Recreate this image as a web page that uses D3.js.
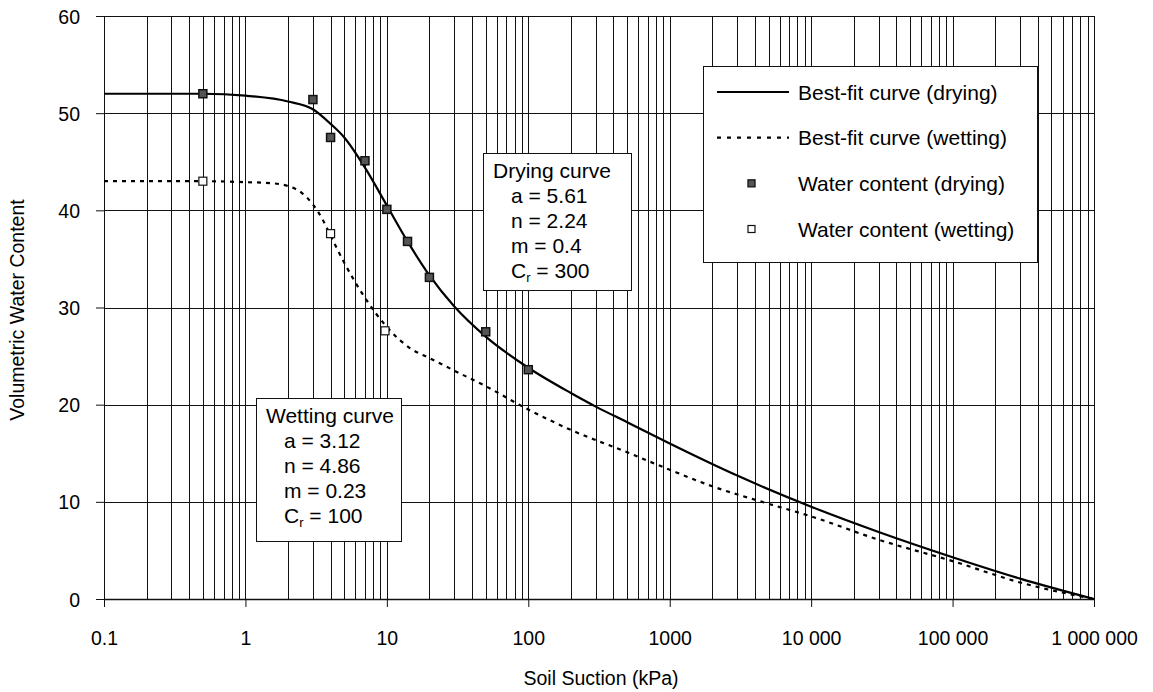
<!DOCTYPE html>
<html>
<head>
<meta charset="utf-8">
<script src="https://cdn.jsdelivr.net/npm/d3@7"></script>
<style>
  body { margin: 0; background: #fff; }
  svg text { font-family: "Liberation Sans", Arial, Helvetica, sans-serif; fill: #000; }
</style>
</head>
<body>
<div id="chart"></div>
<script>

// curve readings (suction kPa -> volumetric water content)
var dryingCurveSuction = [0.1, 0.5, 1, 2, 3, 4, 5, 7, 10, 14, 20, 30, 50, 100, 200, 300, 500, 1000, 3000, 10000, 30000, 100000, 300000, 1000000];
var dryingCurveWater   = [52.0, 52.0, 51.8, 51.2, 50.4, 48.9, 47.5, 44.4, 40.5, 36.8, 33.3, 30.1, 27.0, 23.8, 21.2, 19.8, 18.2, 16.0, 12.7, 9.5, 6.9, 4.3, 2.1, 0];

var wettingCurveSuction = [0.1, 0.5, 1, 1.5, 2, 2.5, 3, 3.5, 4, 5, 7, 10, 15, 20, 30, 50, 100, 200, 500, 1000, 2000, 5000, 10000, 30000, 100000, 300000, 1000000];
var wettingCurveWater   = [43.0, 43.0, 42.9, 42.8, 42.5, 41.8, 40.6, 39.1, 37.4, 34.6, 31.0, 28.0, 25.7, 24.8, 23.5, 21.9, 19.5, 17.4, 15.1, 13.3, 11.6, 9.8, 8.5, 6.1, 3.9, 1.7, 0];

// measured points
var dryingSuction = [0.5, 3, 4, 7, 10, 14, 20, 50, 100];
var dryingWater   = [52.0, 51.4, 47.5, 45.1, 40.1, 36.8, 33.1, 27.5, 23.6];

var wettingSuction = [0.5, 4, 9.7];
var wettingWater   = [43.0, 37.6, 27.6];

// axes
var xTickValues = [0.1, 1, 10, 100, 1000, 10000, 100000, 1000000];
var xTickLabels = ["0.1", "1", "10", "100", "1000", "10 000", "100 000", "1 000 000"];
var yTickValues = [0, 10, 20, 30, 40, 50, 60];

var legendNames = ["Best-fit curve (drying)", "Best-fit curve (wetting)", "Water content (drying)", "Water content (wetting)"];

var dryingParams  = ["a = 5.61", "n = 2.24", "m = 0.4", "300"];
var wettingParams = ["a = 3.12", "n = 4.86", "m = 0.23", "100"];


function main() {

    var margin = {top: 16, left: 104},
        width = 990,
        height = 583;

    var svg = d3.select("#chart")
        .append("svg")
        .attr("width", 1153)
        .attr("height", 692);

    var g = svg.append("g")
        .attr("transform", "translate(" + margin.left + "," + margin.top + ")");

    var x = d3.scaleLog().domain([0.1, 1000000]).range([0, width]);
    var y = d3.scaleLinear().domain([0, 60]).range([height, 0]);

    // vertical grid (every 1..9 of each decade)
    g.append("g")
        .selectAll("line")
        .data(x.ticks())
        .join("line")
            .attr("x1", d => Math.round(x(d)) + 0.5)
            .attr("x2", d => Math.round(x(d)) + 0.5)
            .attr("y1", 0)
            .attr("y2", height)
            .style("stroke", "#111")
            .style("stroke-width", 1);

    // horizontal grid
    g.append("g")
        .selectAll("line")
        .data(yTickValues)
        .join("line")
            .attr("x1", 0)
            .attr("x2", width)
            .attr("y1", d => Math.round(y(d)) + 0.5)
            .attr("y2", d => Math.round(y(d)) + 0.5)
            .style("stroke", "#111")
            .style("stroke-width", d => d == 0 ? 1.5 : 1);

    // X axis
    var xAxis = g.append("g")
        .attr("transform", "translate(0," + height + ")")
        .call(d3.axisBottom(x).tickValues(xTickValues).tickSize(8).tickFormat((d, i) => xTickLabels[i]));
    xAxis.select(".domain").remove();
    xAxis.selectAll("line").style("stroke", "#111");
    xAxis.selectAll("text")
        .attr("y", 46)
        .attr("dy", 0)
        .style("font-size", "19.5px")
        .style("font-family", "Liberation Sans, Arial, sans-serif");

    // Y axis
    var yAxis = g.append("g")
        .call(d3.axisLeft(y).tickValues(yTickValues).tickSize(8).tickPadding(16));
    yAxis.select(".domain").remove();
    yAxis.selectAll("line").style("stroke", "#111");
    yAxis.selectAll("text")
        .attr("dy", "0.36em")
        .style("font-size", "19.5px")
        .style("font-family", "Liberation Sans, Arial, sans-serif");

    // axis labels
    svg.append("text")
        .attr("text-anchor", "middle")
        .attr("x", 601)
        .attr("y", 685)
        .attr("font-size", "19.5px")
        .text("Soil Suction (kPa)");

    svg.append("text")
        .attr("text-anchor", "middle")
        .attr("transform", "translate(24,310) rotate(-90)")
        .attr("font-size", "19.5px")
        .text("Volumetric Water Content");

    // curves
    var line = d3.line()
        .x(d => x(d[0]))
        .y(d => y(d[1]))
        .curve(d3.curveMonotoneX);

    g.append("path")
        .datum(wettingCurveSuction.map((s, i) => [s, wettingCurveWater[i]]))
        .attr("fill", "none")
        .attr("stroke", "#000")
        .attr("stroke-width", 2.2)
        .attr("stroke-dasharray", "4,5")
        .attr("d", line);

    g.append("path")
        .datum(dryingCurveSuction.map((s, i) => [s, dryingCurveWater[i]]))
        .attr("fill", "none")
        .attr("stroke", "#000")
        .attr("stroke-width", 2.2)
        .attr("d", line);

    // points
    var sq = 8;
    g.append("g")
        .selectAll("rect")
        .data(dryingSuction.map((s, i) => [s, dryingWater[i]]))
        .join("rect")
            .attr("x", d => x(d[0]) - sq / 2)
            .attr("y", d => y(d[1]) - sq / 2)
            .attr("width", sq)
            .attr("height", sq)
            .style("fill", "#555")
            .style("stroke", "#111")
            .style("stroke-width", 1.5);

    g.append("g")
        .selectAll("rect")
        .data(wettingSuction.map((s, i) => [s, wettingWater[i]]))
        .join("rect")
            .attr("x", d => x(d[0]) - sq / 2)
            .attr("y", d => y(d[1]) - sq / 2)
            .attr("width", sq)
            .attr("height", sq)
            .style("fill", "#fff")
            .style("stroke", "#111")
            .style("stroke-width", 1.2);

    // annotation boxes
    function paramBox(bx, by, bw, bh, title, params) {
        svg.append("rect")
            .attr("x", bx + 0.5).attr("y", by + 0.5)
            .attr("width", bw).attr("height", bh)
            .style("fill", "#fff")
            .style("stroke", "#111")
            .style("stroke-width", 1);
        svg.append("text")
            .attr("x", bx + 10)
            .attr("y", by + 25)
            .attr("font-size", "21px")
            .text(title);
        params.forEach(function (p, i) {
            var t = svg.append("text")
                .attr("x", bx + 28)
                .attr("y", by + 50 + i * 25)
                .attr("font-size", "21px");
            if (i == 3) {
                t.append("tspan").text("C");
                t.append("tspan").attr("font-size", "13px").attr("dy", 4).text("r");
                t.append("tspan").attr("dy", -4).text(" = " + p);
            } else {
                t.text(p);
            }
        });
    }
    paramBox(483, 153, 148, 137, "Drying curve", dryingParams);
    paramBox(256, 398, 145, 143, "Wetting curve", wettingParams);

    // legend
    var legend = svg.append("g");
    legend.append("rect")
        .attr("x", 703.5).attr("y", 66.5)
        .attr("width", 334).attr("height", 196)
        .style("fill", "#fff")
        .style("stroke", "#111")
        .style("stroke-width", 1);

    var rowY = d3.scalePoint().domain(legendNames).range([92, 229]);

    legend.append("line")
        .attr("x1", 717).attr("x2", 789)
        .attr("y1", rowY(legendNames[0])).attr("y2", rowY(legendNames[0]))
        .style("stroke", "#000").style("stroke-width", 2.2);
    legend.append("line")
        .attr("x1", 717).attr("x2", 789)
        .attr("y1", rowY(legendNames[1])).attr("y2", rowY(legendNames[1]))
        .style("stroke", "#000").style("stroke-width", 2.2)
        .style("stroke-dasharray", "4,6");
    legend.append("rect")
        .attr("x", 748).attr("y", rowY(legendNames[2]) - 3.5)
        .attr("width", 7).attr("height", 7)
        .style("fill", "#555").style("stroke", "#111").style("stroke-width", 1.3);
    legend.append("rect")
        .attr("x", 748).attr("y", rowY(legendNames[3]) - 3.5)
        .attr("width", 7).attr("height", 7)
        .style("fill", "#fff").style("stroke", "#111").style("stroke-width", 1.2);

    legend.selectAll("text.lab")
        .data(legendNames)
        .join("text")
            .attr("class", "lab")
            .attr("x", 798)
            .attr("y", d => rowY(d))
            .attr("dy", "0.36em")
            .attr("font-size", "21px")
            .text(d => d);
}

main()
</script>
</body>
</html>
